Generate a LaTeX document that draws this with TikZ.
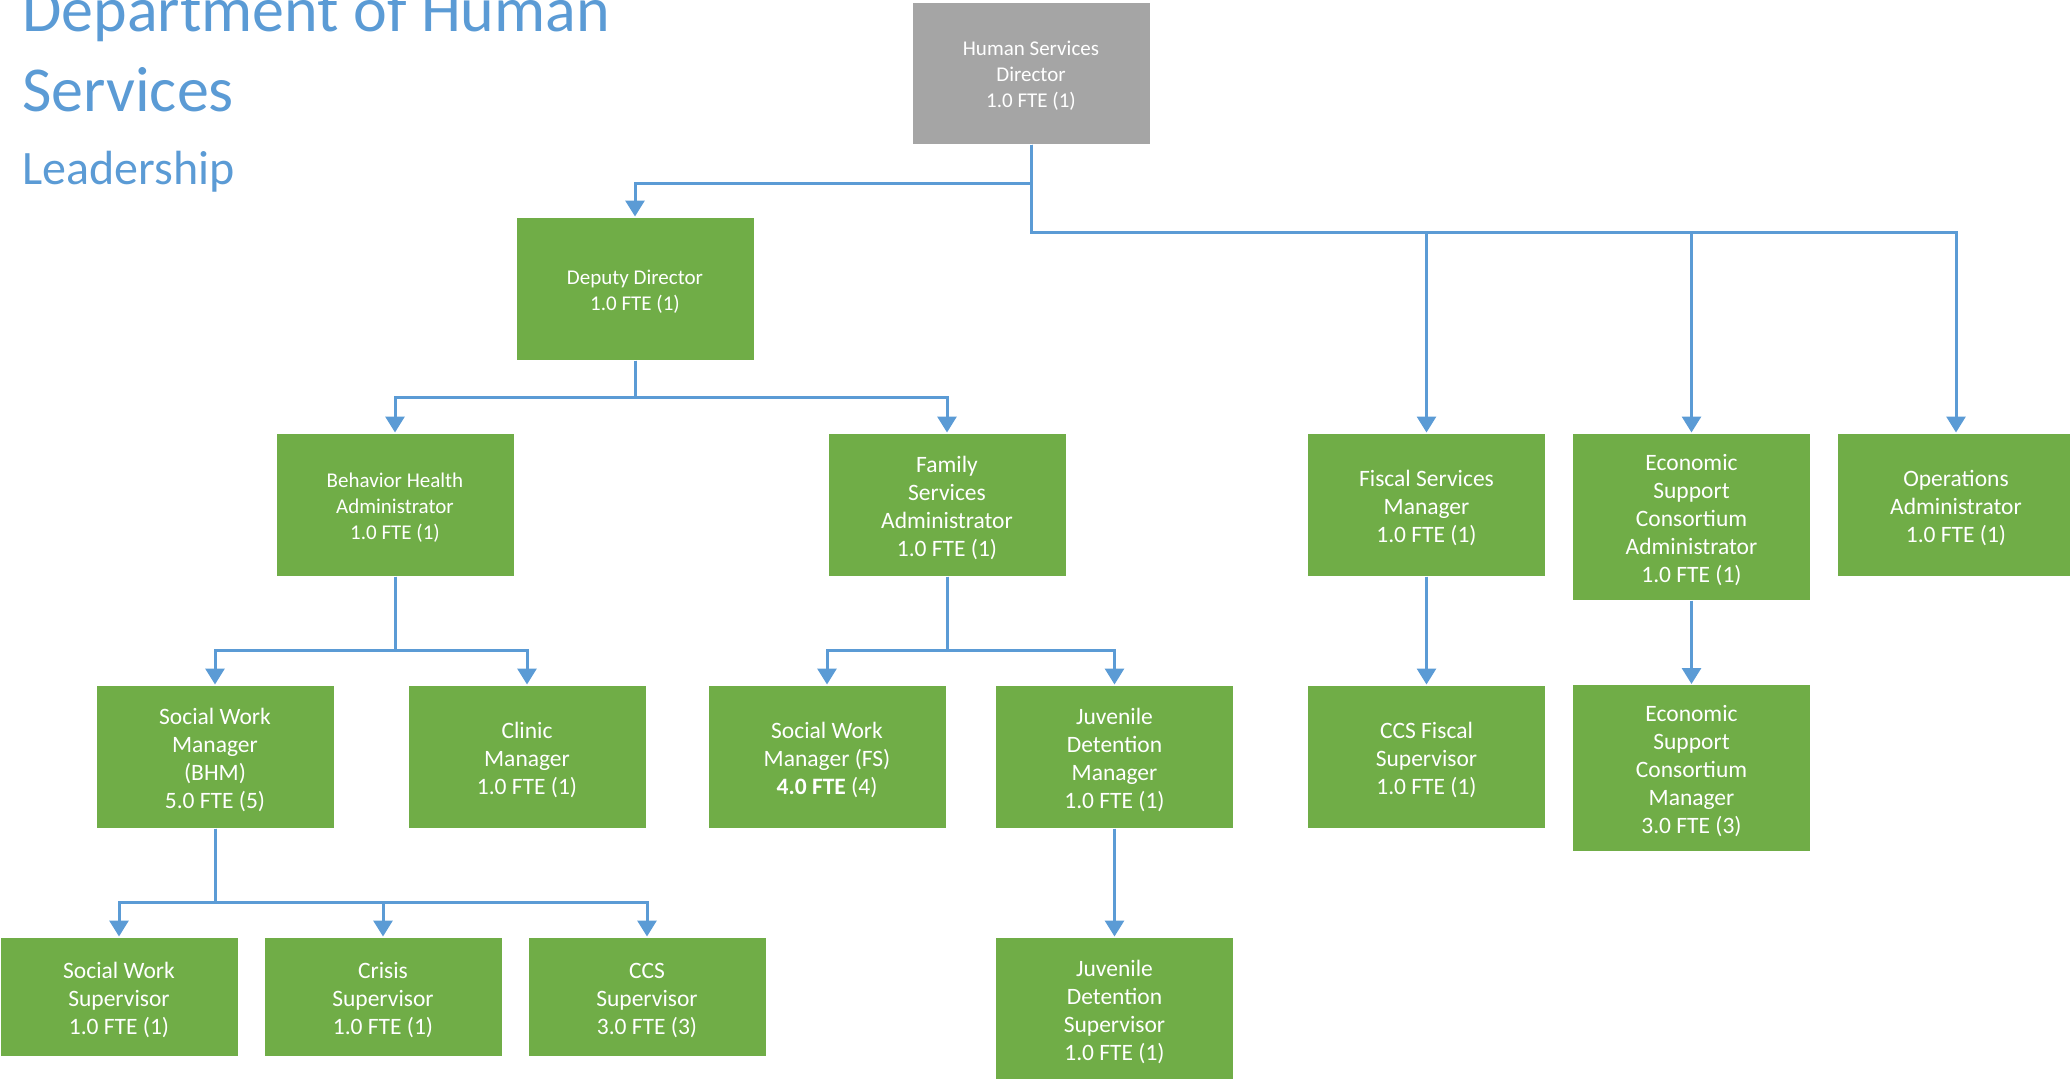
\documentclass[tikz,border=0pt]{standalone}
\usepackage{fontspec}
\setmainfont{Carlito}
\usetikzlibrary{arrows.meta}
\definecolor{orgblue}{HTML}{5B9BD5}
\definecolor{orggreen}{HTML}{70AD47}
\definecolor{orggray}{HTML}{A5A5A5}
% extra height on the first line drops each box text a little
\newcommand{\boxstrut}{\rule{0pt}{0.98em}}
\begin{document}
\begin{tikzpicture}[x=1pt,y=-1pt,
  unitbox/.style={rectangle, fill=orggreen, draw=white, line width=1pt,
    minimum width=238pt, minimum height=143pt, inner sep=0pt,
    align=center, text=white, font=\fontsize{23.5}{28}\selectfont},
  smalltext/.style={font=\fontsize{21}{26}\selectfont},
  tallbox/.style={minimum height=167pt},
  shortbox/.style={minimum height=119pt},
  topbox/.style={fill=orggray},
  conn/.style={draw=orgblue, line width=3pt,
    -{Triangle[width=19pt,length=16pt]}},
  titletext/.style={anchor=base west, inner sep=0pt, text=orgblue}]
\useasboundingbox (0,0) rectangle (2070,1079);

% heading
\node[titletext, font=\fontsize{64}{77}\selectfont] (t1) at (22,31) {Department of Human};
\node[titletext, font=\fontsize{64}{77}\selectfont] (t2) at (22,111) {Services};
\node[titletext, font=\fontsize{48}{58}\selectfont] (t3) at (22,184) {Leadership};

% top of the chart
\node[unitbox, topbox, smalltext, minimum height=142pt] (dir) at (1031,73) {\boxstrut Human Services\\Director\\1.0 FTE (1)};
\node[unitbox, smalltext] (dep) at (635,288.5) {\boxstrut Deputy Director\\1.0 FTE (1)};

% second level
\node[unitbox, smalltext] (bh)  at (395,504.5)    {\boxstrut Behavior Health\\Administrator\\1.0 FTE (1)};
\node[unitbox] (fam) at (947,504.5)    {\boxstrut Family\\Services\\Administrator\\1.0 FTE (1)};
\node[unitbox] (fis) at (1426.5,504.5) {\boxstrut Fiscal Services\\Manager\\1.0 FTE (1)};
\node[unitbox, tallbox] (esa) at (1691.5,516.5) {\boxstrut Economic\\Support\\Consortium\\Administrator\\1.0 FTE (1)};
\node[unitbox] (ops) at (1956,504.5)   {\boxstrut Operations\\Administrator\\1.0 FTE (1)};

% third level
\node[unitbox] (swb) at (215,756.5)    {\boxstrut Social Work\\Manager\\(BHM)\\5.0 FTE (5)};
\node[unitbox] (cli) at (527,756.5)    {\boxstrut Clinic\\Manager\\1.0 FTE (1)};
\node[unitbox] (swf) at (827,756.5)    {\boxstrut Social Work\\Manager (FS)\\\textbf{4.0 FTE} (4)};
\node[unitbox] (jdm) at (1114.5,756.5) {\boxstrut Juvenile\\Detention\\Manager\\1.0 FTE (1)};
\node[unitbox] (ccf) at (1426.5,756.5) {\boxstrut CCS Fiscal\\Supervisor\\1.0 FTE (1)};
\node[unitbox, tallbox] (esm) at (1691.5,768) {\boxstrut Economic\\Support\\Consortium\\Manager\\3.0 FTE (3)};

% fourth level
\node[unitbox, shortbox] (sws) at (119,996.5)   {\boxstrut Social Work\\Supervisor\\1.0 FTE (1)};
\node[unitbox, shortbox] (cri) at (383,996.5)   {\boxstrut Crisis\\Supervisor\\1.0 FTE (1)};
\node[unitbox, shortbox] (ccs) at (647,996.5)   {\boxstrut CCS\\Supervisor\\3.0 FTE (3)};
\node[unitbox] (jds) at (1114.5,1008.5) {\boxstrut Juvenile\\Detention\\Supervisor\\1.0 FTE (1)};

% reporting lines
\draw[conn] (dir.south) -- ++(0,38.5) -| (dep.north);
\draw[conn] (dir.south) -- ++(0,88) -| (fis.north);
\draw[conn] (dir.south) -- ++(0,88) -| (esa.north);
\draw[conn] (dir.south) -- ++(0,88) -| (ops.north);

\draw[conn] (dep.south) -- ++(0,37) -| (bh.north);
\draw[conn] (dep.south) -- ++(0,37) -| (fam.north);

\draw[conn] (bh.south) -- ++(0,74) -| (swb.north);
\draw[conn] (bh.south) -- ++(0,74) -| (cli.north);
\draw[conn] (fam.south) -- ++(0,74) -| (swf.north);
\draw[conn] (fam.south) -- ++(0,74) -| (jdm.north);

\draw[conn] (swb.south) -- ++(0,74) -| (sws.north);
\draw[conn] (swb.south) -- ++(0,74) -| (cri.north);
\draw[conn] (swb.south) -- ++(0,74) -| (ccs.north);

\draw[conn] (jdm.south) -- (jds.north);
\draw[conn] (fis.south) -- (ccf.north);
\draw[conn] (esa.south) -- (esm.north);
\end{tikzpicture}
\end{document}
